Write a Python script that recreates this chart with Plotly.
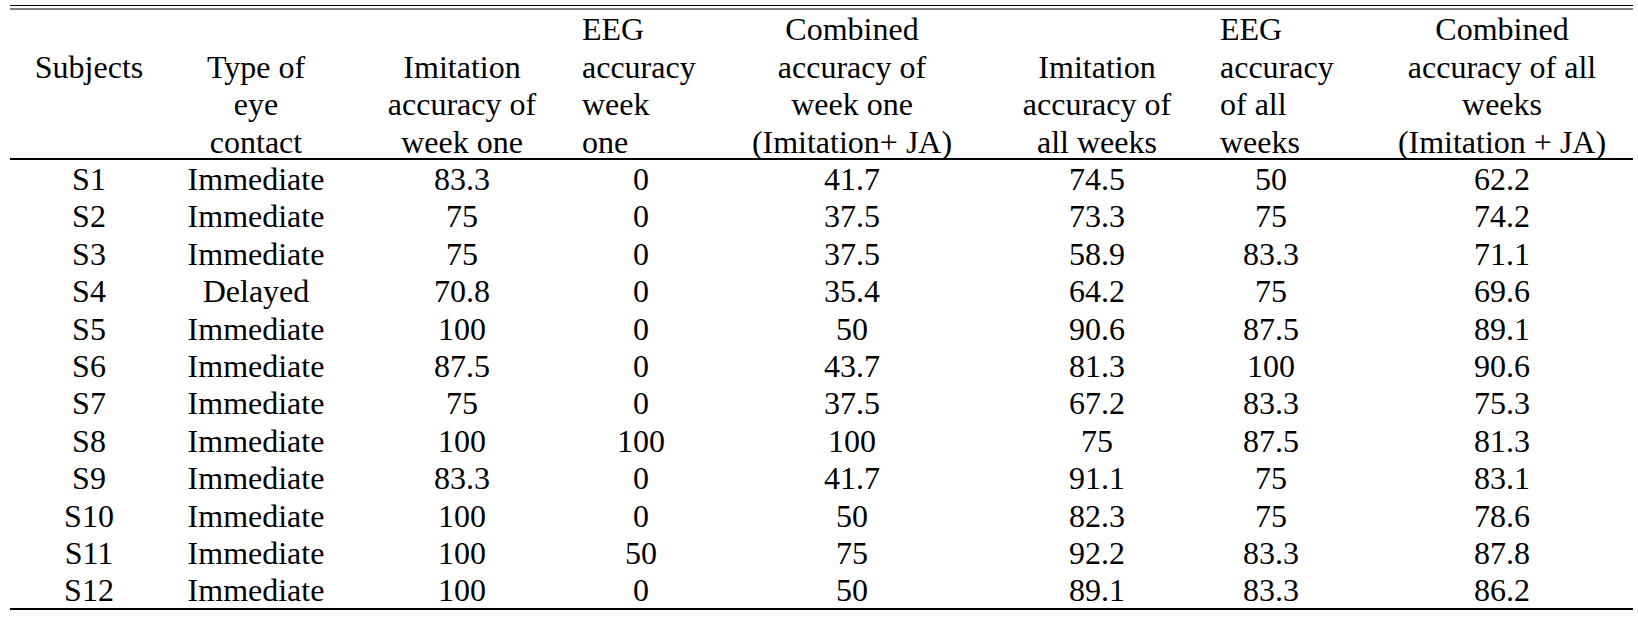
import plotly.graph_objects as go

# table data
subjects = ["S1", "S2", "S3", "S4", "S5", "S6", "S7", "S8", "S9", "S10", "S11", "S12"]
contact_type = ["Immediate", "Immediate", "Immediate", "Delayed", "Immediate", "Immediate",
                "Immediate", "Immediate", "Immediate", "Immediate", "Immediate", "Immediate"]
imit_week1 = [83.3, 75, 75, 70.8, 100, 87.5, 75, 100, 83.3, 100, 100, 100]
eeg_week1 = [0, 0, 0, 0, 0, 0, 0, 100, 0, 0, 50, 0]
comb_week1 = [41.7, 37.5, 37.5, 35.4, 50, 43.7, 37.5, 100, 41.7, 50, 75, 50]
imit_all = [74.5, 73.3, 58.9, 64.2, 90.6, 81.3, 67.2, 75, 91.1, 82.3, 92.2, 89.1]
eeg_all = [50, 75, 83.3, 75, 87.5, 100, 83.3, 87.5, 75, 75, 83.3, 83.3]
comb_all = [62.2, 74.2, 71.1, 69.6, 89.1, 90.6, 75.3, 81.3, 83.1, 78.6, 87.8, 86.2]

# header lines of each column (last line sits just above the rule)
headers = [
    ["Subjects"],
    ["Type of", "eye", "contact"],
    ["Imitation", "accuracy of", "week one"],
    ["EEG", "accuracy", "week", "one"],
    ["Combined", "accuracy of", "week one", "(Imitation+ JA)"],
    ["Imitation", "accuracy of", "all weeks"],
    ["EEG", "accuracy", "of all", "weeks"],
    ["Combined", "accuracy of all", "weeks", "(Imitation + JA)"],
]

FONT = dict(family="Liberation Serif", size=32, color="black")

W, H = 1638, 622
ROW0, PITCH = 182, 37.4   # pixel centre of first row, row pitch


def px_to_row(p):
    return (p - ROW0) / PITCH


# column centres and left edges (x axis in page pixels)
col_x = [89, 256, 462, 641, 852, 1097, 1271, 1502]
left_x = {3: 582, 6: 1220}

columns = [subjects, contact_type, imit_week1, eeg_week1, comb_week1, imit_all, eeg_all, comb_all]


def fmt(v):
    return v if isinstance(v, str) else f"{v:g}"


fig = go.Figure()

rows = list(range(len(subjects)))
for i, col in enumerate(columns):
    fig.add_trace(go.Scatter(
        x=[col_x[i]] * len(col),
        y=rows,
        mode="text",
        text=[fmt(v) for v in col],
        textposition="middle center",
        textfont=FONT,
        hoverinfo="skip",
        showlegend=False,
    ))

for i, lines in enumerate(headers):
    n = len(lines)
    ys = [-(n - k) for k in range(n)]
    if i == 0:
        ys = [-3]  # "Subjects" sits on the second header line
    if i in left_x:
        x = [left_x[i]] * n
        pos = "middle right"
    else:
        x = [col_x[i]] * n
        pos = "middle center"
    fig.add_trace(go.Scatter(
        x=x, y=ys, mode="text", text=lines,
        textposition=pos, textfont=FONT,
        hoverinfo="skip", showlegend=False,
    ))

# horizontal rules: double top rule, header rule, bottom rule
x0, x1 = 10, 1633
for p, w in [(5.5, 1.2), (9, 1.2), (159, 2.2), (609, 2.2)]:
    y = px_to_row(p)
    fig.add_shape(type="line", x0=x0, x1=x1, y0=y, y1=y,
                  xref="x", yref="y", line=dict(color="black", width=w))

fig.update_layout(
    width=W,
    height=H,
    autosize=False,
    margin=dict(l=0, r=0, t=0, b=0),
    paper_bgcolor="white",
    plot_bgcolor="white",
    xaxis=dict(range=[0, W], visible=False, fixedrange=True),
    yaxis=dict(range=[px_to_row(H), px_to_row(0)], visible=False, fixedrange=True),
)

# drop the default 8px page margin so the figure fills the window
fig.write_html("out.html", config={"displayModeBar": False},
               post_script="document.body.style.margin='0';")
